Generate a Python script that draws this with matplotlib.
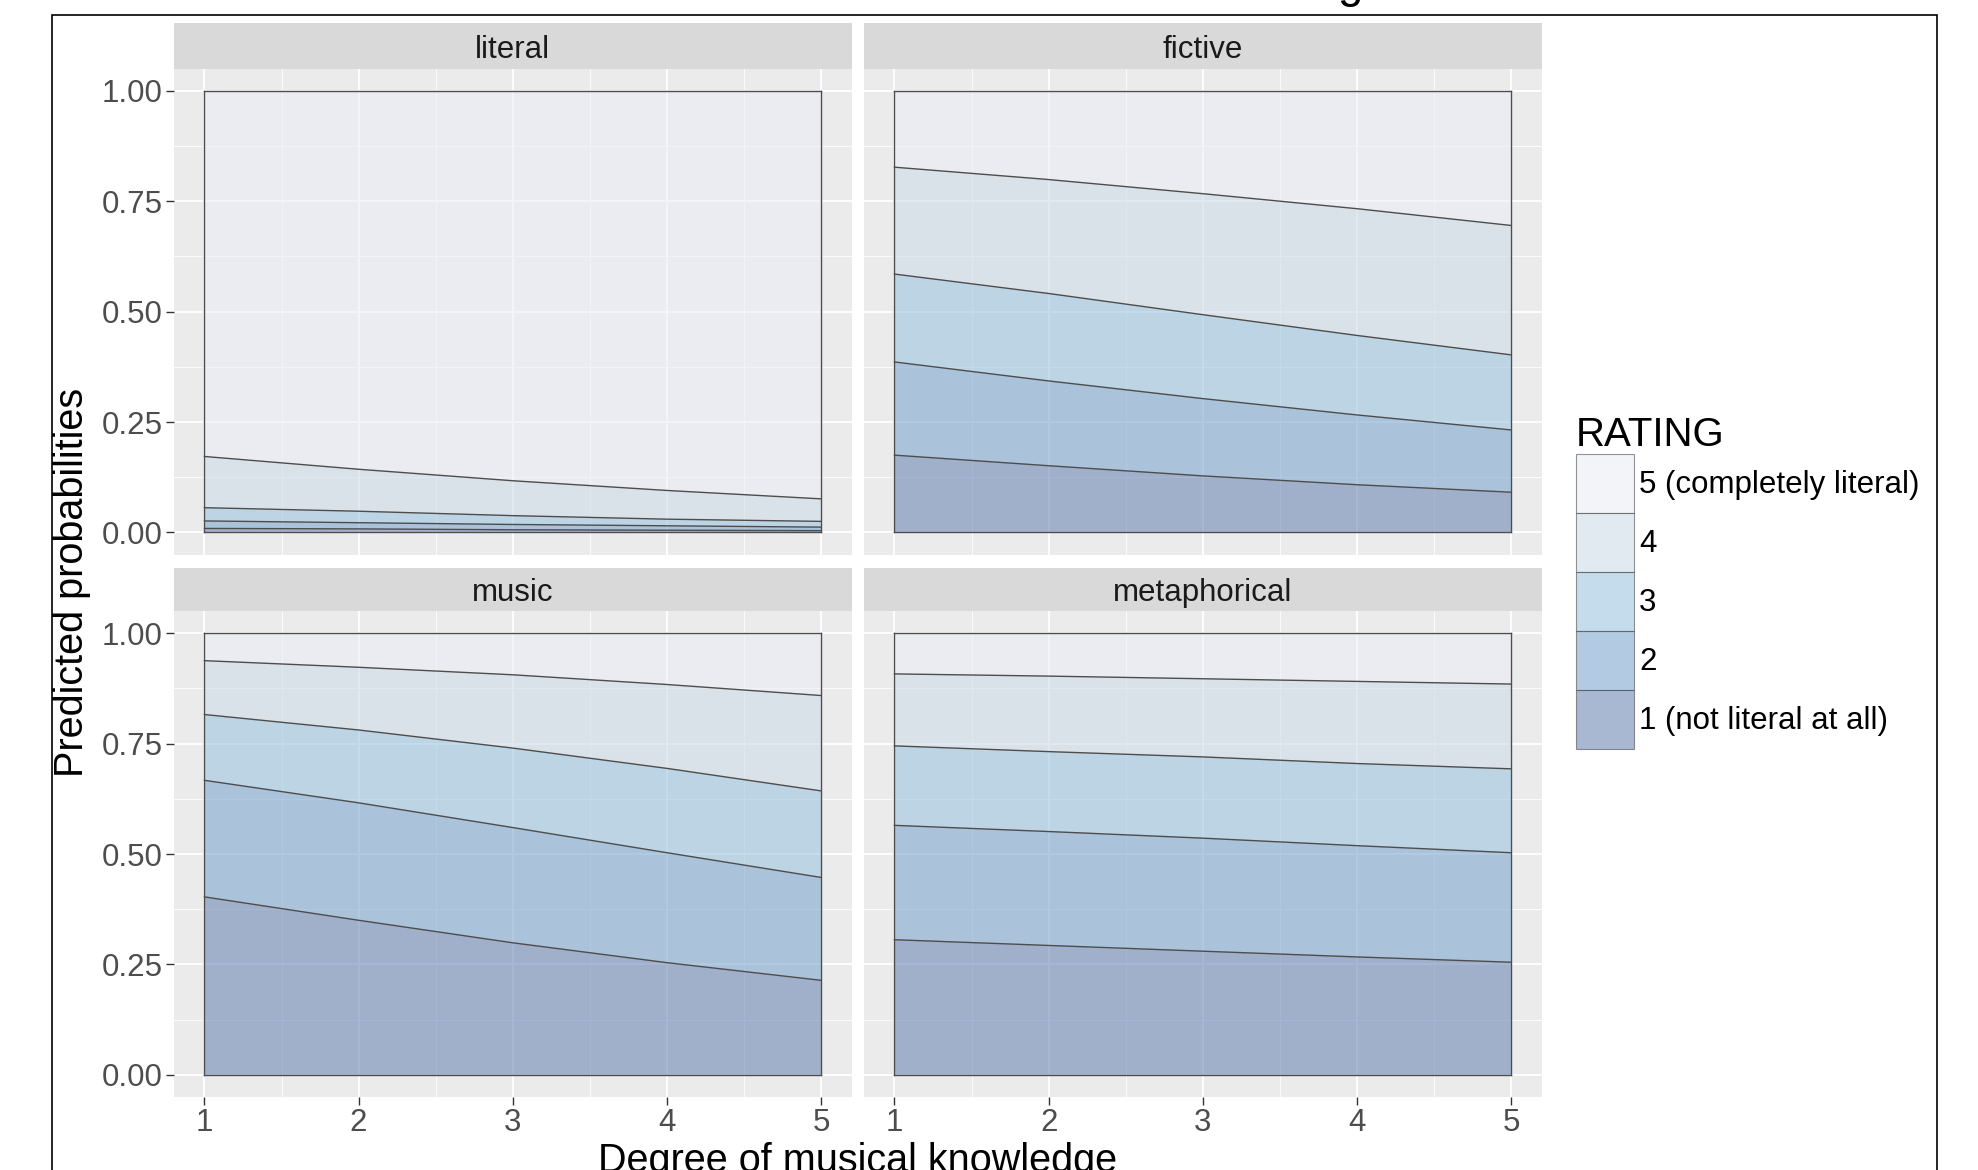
import matplotlib
matplotlib.use('Agg')
import matplotlib.pyplot as plt
from matplotlib.patches import Patch, Rectangle
import numpy as np

plt.rcParams['font.family'] = ['Liberation Sans', 'DejaVu Sans']

# --- data (probability of each rating) ---
knowledge = [1, 2, 3, 4, 5]
facets = ['literal', 'fictive', 'music', 'metaphorical']
rating_labels = ['1 (not literal at all)', '2', '3', '4', '5 (completely literal)']

literal_p = [
    [0.009, 0.008, 0.006, 0.005, 0.004],
    [0.017, 0.014, 0.012, 0.010, 0.008],
    [0.030, 0.026, 0.020, 0.015, 0.013],
    [0.116, 0.095, 0.079, 0.065, 0.051],
]
fictive_p = [
    [0.175, 0.151, 0.128, 0.108, 0.091],
    [0.211, 0.192, 0.175, 0.158, 0.141],
    [0.199, 0.198, 0.190, 0.180, 0.170],
    [0.242, 0.258, 0.274, 0.287, 0.293],
]
music_p = [
    [0.403, 0.350, 0.299, 0.254, 0.214],
    [0.264, 0.266, 0.261, 0.249, 0.233],
    [0.149, 0.165, 0.180, 0.191, 0.196],
    [0.122, 0.142, 0.166, 0.190, 0.216],
]
metaphorical_p = [
    [0.306, 0.293, 0.280, 0.267, 0.255],
    [0.259, 0.258, 0.256, 0.252, 0.248],
    [0.180, 0.181, 0.184, 0.186, 0.190],
    [0.163, 0.171, 0.177, 0.186, 0.192],
]
facet_data = [literal_p, fictive_p, music_p, metaphorical_p]

# rating 1..5 fill colours (drawn with alpha over the grey panel)
fill_colors = ['#6e89b7', '#7fa7cf', '#9dc5df', '#cfdce8', '#ebeef7']
fill_alpha = 0.6
line_col = '#4d4d4d'

W, H = 1978, 1170
fig = plt.figure(figsize=(W / 100, H / 100), dpi=100)


def fx(px):
    return px / W


def fy(py):
    return 1 - py / H


cols = [(173.6, 852.0), (863.6, 1542.1)]
rows = [(68.7, 554.5, 23.0), (611.2, 1096.9, 568.0)]
tick_fs = 22.5

for i, name in enumerate(facets):
    r, c = divmod(i, 2)
    x0, x1 = cols[c]
    y0, y1, s0 = rows[r]
    ax = fig.add_axes([fx(x0), fy(y1), fx(x1 - x0), (y1 - y0) / H])
    ax.set_facecolor('#ebebeb')
    for sp in ax.spines.values():
        sp.set_visible(False)
    ax.set_xlim(0.8, 5.2)
    ax.set_ylim(-0.05, 1.05)
    ax.set_xticks([1, 2, 3, 4, 5])
    ax.set_xticks([1.5, 2.5, 3.5, 4.5], minor=True)
    ax.set_yticks([0, 0.25, 0.5, 0.75, 1.0])
    ax.set_yticks([0.125, 0.375, 0.625, 0.875], minor=True)
    ax.grid(which='major', color='white', lw=1.3)
    ax.grid(which='minor', color='white', lw=0.6)
    ax.set_axisbelow(True)
    ax.tick_params(which='minor', length=0)
    ax.tick_params(which='major', length=6, width=1.0, color='#333333',
                   labelsize=tick_fs, labelcolor='#4d4d4d', pad=2)
    if c == 0:
        ax.set_yticklabels(['0.00', '0.25', '0.50', '0.75', '1.00'])
    else:
        ax.tick_params(axis='y', length=0, labelleft=False)
    if r == 1:
        ax.set_xticklabels(['1', '2', '3', '4', '5'])
    else:
        ax.tick_params(axis='x', length=0, labelbottom=False)

    probs = np.array(facet_data[i])
    p5 = 1 - probs.sum(axis=0)
    layers = np.vstack([probs, p5])
    ax.stackplot(knowledge, layers, colors=fill_colors, alpha=fill_alpha, lw=0)
    cum = np.vstack([np.zeros(len(knowledge)), np.cumsum(layers, axis=0)])
    for row in cum:
        ax.plot(knowledge, row, color=line_col, lw=1.0)
    ax.plot([knowledge[0]] * 2, [0, 1], color=line_col, lw=1.0)
    ax.plot([knowledge[-1]] * 2, [0, 1], color=line_col, lw=1.0)

    # strip
    sax = fig.add_axes([fx(x0), fy(y0), fx(x1 - x0), (y0 - s0) / H])
    sax.set_facecolor('#d9d9d9')
    sax.set_xticks([])
    sax.set_yticks([])
    for sp in sax.spines.values():
        sp.set_visible(False)
    sax.text(0.5, 0.42, name, ha='center', va='center', fontsize=tick_fs,
             color='#1a1a1a', transform=sax.transAxes)

fig.text(fx(72), fy(582), 'Predicted probabilities', rotation=90,
         ha='center', va='center', fontsize=28.5)
fig.text(fx(858), fy(1142), 'Degree of musical knowledge', ha='center',
         va='top', fontsize=28.5)
fig.text(fx(1363), fy(-3), 'Literalness rating', ha='right', va='baseline',
         fontsize=33)

handles = [Patch(facecolor=fill_colors[k], alpha=fill_alpha,
                 edgecolor=line_col, lw=0.8) for k in range(4, -1, -1)]
labels = [rating_labels[k] for k in range(4, -1, -1)]
leg = fig.legend(handles, labels, title='RATING', loc='upper left',
                 bbox_to_anchor=(fx(1576), fy(416)), frameon=False,
                 fontsize=tick_fs, title_fontsize=29, borderpad=0,
                 borderaxespad=0, handlelength=1.87, handleheight=2.53,
                 labelspacing=0, handletextpad=0.15, alignment='left')

fig.add_artist(Rectangle((fx(52), -0.1), fx(1937 - 52), fy(15) + 0.1,
                         transform=fig.transFigure, fill=False,
                         edgecolor='black', lw=1.2))

fig.savefig('out.png', dpi=100)
